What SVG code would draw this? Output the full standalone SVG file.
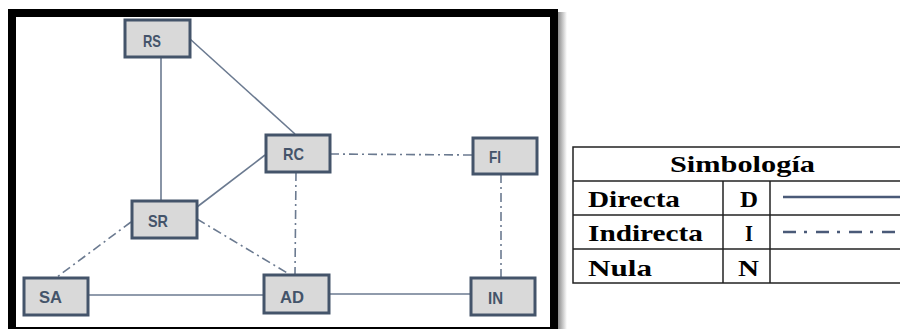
<svg xmlns="http://www.w3.org/2000/svg" width="900" height="329" viewBox="0 0 900 329">
<defs>
<linearGradient id="shadow" x1="0" y1="0" x2="1" y2="0">
<stop offset="0" stop-color="#8a8a8a"/>
<stop offset="1" stop-color="#ffffff"/>
</linearGradient>
<style>
.node rect{fill:#d9d9d9;stroke:#44546a;stroke-width:3}
.node text{font-family:"Liberation Sans",Arial,sans-serif;font-weight:bold;font-size:17px;fill:#44546a}
.direct{stroke:#6b7a90;stroke-width:1.6;fill:none}
.indirect{stroke:#6b7a90;stroke-width:1.6;fill:none;stroke-dasharray:9 4 2 4}
.tbl{stroke:#222;stroke-width:1.5;fill:none}
.lg{font-family:"Liberation Serif","Times New Roman",serif;font-weight:bold;font-size:23px;fill:#000}
</style>
</defs>
<rect width="900" height="329" fill="#ffffff"/>
<rect x="558" y="12" width="9" height="317" fill="url(#shadow)"/>
<rect x="12" y="13" width="542" height="318" fill="#ffffff" stroke="#000" stroke-width="8"/>

<g id="connectors">
<line class="direct" x1="161" y1="57" x2="161" y2="201"/>
<line class="direct" x1="190" y1="39" x2="295" y2="134"/>
<line class="direct" x1="197" y1="207" x2="265" y2="155"/>
<line class="indirect" x1="330" y1="154" x2="472" y2="155"/>
<line class="indirect" x1="296" y1="172" x2="295" y2="274"/>
<line class="indirect" x1="501" y1="174" x2="501" y2="277"/>
<line class="indirect" x1="131" y1="222" x2="57" y2="277"/>
<line class="indirect" x1="197" y1="219" x2="289" y2="274"/>
<line class="direct" x1="88" y1="295" x2="263" y2="295"/>
<line class="direct" x1="329" y1="294" x2="470" y2="294"/>
</g>

<g id="RS" class="node"><rect x="125" y="20" width="65" height="37"/><text x="143" y="47" textLength="18" lengthAdjust="spacingAndGlyphs">RS</text></g>
<g id="RC" class="node"><rect x="266" y="135" width="64" height="37"/><text x="283" y="160" textLength="21" lengthAdjust="spacingAndGlyphs">RC</text></g>
<g id="FI" class="node"><rect x="473" y="138" width="64" height="36"/><text x="489" y="163" textLength="12" lengthAdjust="spacingAndGlyphs">FI</text></g>
<g id="SR" class="node"><rect x="132" y="201" width="65" height="37"/><text x="148" y="227" textLength="20" lengthAdjust="spacingAndGlyphs">SR</text></g>
<g id="SA" class="node"><rect x="24" y="278" width="64" height="37"/><text x="39" y="303" textLength="23" lengthAdjust="spacingAndGlyphs">SA</text></g>
<g id="AD" class="node"><rect x="264" y="275" width="65" height="38"/><text x="280" y="303" textLength="24" lengthAdjust="spacingAndGlyphs">AD</text></g>
<g id="IN" class="node"><rect x="471" y="278" width="64" height="37"/><text x="488" y="304" textLength="15" lengthAdjust="spacingAndGlyphs">IN</text></g>

<g id="legend">
<rect class="tbl" x="573" y="147" width="340" height="136"/>
<line class="tbl" x1="573" y1="181" x2="900" y2="181"/>
<line class="tbl" x1="573" y1="215" x2="900" y2="215"/>
<line class="tbl" x1="573" y1="249" x2="900" y2="249"/>
<line class="tbl" x1="723" y1="181" x2="723" y2="283"/>
<line class="tbl" x1="770" y1="181" x2="770" y2="283"/>
<text class="lg" x="670" y="172" textLength="145" lengthAdjust="spacingAndGlyphs">Simbología</text>
<text class="lg" x="588" y="207" textLength="92" lengthAdjust="spacingAndGlyphs">Directa</text>
<text class="lg" x="588" y="241" textLength="115" lengthAdjust="spacingAndGlyphs">Indirecta</text>
<text class="lg" x="588" y="276" textLength="64" lengthAdjust="spacingAndGlyphs">Nula</text>
<text class="lg" x="740" y="207" textLength="18" lengthAdjust="spacingAndGlyphs">D</text>
<text class="lg" x="745" y="241" textLength="8" lengthAdjust="spacingAndGlyphs">I</text>
<text class="lg" x="738" y="276" textLength="21" lengthAdjust="spacingAndGlyphs">N</text>
<line x1="783" y1="197" x2="900" y2="197" stroke="#4a5a78" stroke-width="2.5"/>
<line x1="783" y1="232" x2="900" y2="232" stroke="#4a5a78" stroke-width="2.5" stroke-dasharray="13 8 3 9"/>
</g>
</svg>
